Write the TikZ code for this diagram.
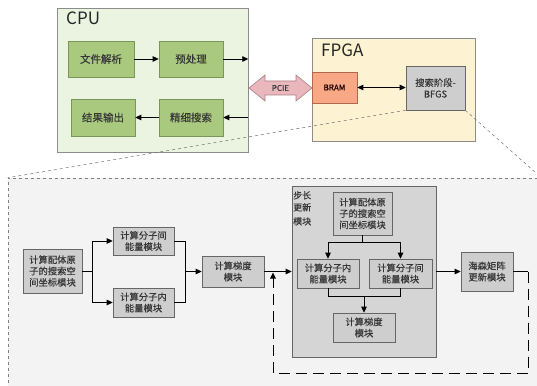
\documentclass[tikz,border=0pt]{standalone}
\usepackage{fontspec}
\setmainfont{Noto Sans CJK SC}[FakeBold=0.35]
\newfontfamily\titlefont{Noto Sans CJK SC}
\usetikzlibrary{arrows.meta, shadows}

\definecolor{cpufill}{RGB}{235,244,225}
\definecolor{fpgafill}{RGB}{253,243,210}
\definecolor{greenfill}{RGB}{169,201,126}
\definecolor{greenline}{RGB}{120,150,90}
\definecolor{bramfill}{RGB}{249,168,134}
\definecolor{bramline}{RGB}{175,105,80}
\definecolor{pciefill}{RGB}{234,184,188}
\definecolor{pcieline}{RGB}{170,125,130}
\definecolor{grayfill}{RGB}{206,206,206}
\definecolor{stepfill}{RGB}{213,213,213}
\definecolor{detailfill}{RGB}{243,243,243}
\definecolor{textgray}{RGB}{55,55,55}

\begin{document}
\begin{tikzpicture}[x=1pt, y=-1pt, >={Triangle[length=6pt,width=5.5pt]},
  container/.style={draw=black!45, line width=0.6pt, inner sep=0pt},
  greenbox/.style={draw=greenline, fill=greenfill, line width=0.6pt, minimum width=64pt,
    minimum height=36pt, inner sep=0pt, text=textgray, font=\fontsize{10.5}{12}\selectfont,
    drop shadow={shadow xshift=1.2pt, shadow yshift=-1.2pt, opacity=0.35}},
  graybox/.style={draw=black!60, fill=grayfill, line width=0.6pt, inner sep=0pt, align=center,
    text=textgray, font=\fontsize{9.3}{11.3}\selectfont,
    drop shadow={shadow xshift=1.2pt, shadow yshift=-1.2pt, opacity=0.35}},
  link/.style={line width=0.8pt},
  zoomline/.style={draw=black!55, dashed, line width=0.5pt},
  feedback/.style={line width=1pt, dash pattern=on 11pt off 6pt}]

  \useasboundingbox (0,0) rectangle (537,385);

  % detail of the BFGS stage
  \node[draw=black!50, dashed, fill=detailfill, line width=0.6pt, minimum width=533pt,
    minimum height=214pt] (detail) at (274.5,285) {};

  % host side
  \node[container, fill=cpufill, minimum width=191pt, minimum height=144pt] (cpu) at (152.5,80) {};
  \node[anchor=base west, inner sep=0pt, text=black!85, font=\titlefont\fontsize{17}{17}\selectfont] (cpulabel) at (66,25) {CPU};
  \node[greenbox, minimum width=66pt] (parse) at (101,59) {文件解析};
  \node[greenbox] (prep) at (191,59) {预处理};
  \node[greenbox, minimum height=37pt] (output) at (103,117.5) {结果输出};
  \node[greenbox, minimum height=37pt] (fine) at (191,117.5) {精细搜索};
  \draw[link,->] (parse) -- (prep);
  \draw[link,->] (prep) -- (prep -| cpu.east);
  \draw[link,->] (fine -| cpu.east) -- (fine);
  \draw[link,->] (fine) -- (output);

  % device side
  \node[container, fill=fpgafill, minimum width=163pt, minimum height=103pt] (fpga) at (393.5,89.5) {};
  \node[anchor=base west, inner sep=0pt, text=black!85, font=\titlefont\fontsize{17}{17}\selectfont] (fpgalabel) at (321,57) {FPGA};
  \node[draw=bramline, fill=bramfill, line width=0.6pt, minimum width=45pt, minimum height=31pt,
    inner sep=0pt, text=black!75!red!40!black, font=\fontsize{8}{9}\selectfont,
    drop shadow={shadow xshift=1.2pt, shadow yshift=-1.2pt, opacity=0.35}] (bram) at (334.5,87.5) {BRAM};
  \node[graybox, minimum width=59pt, minimum height=44pt] (bfgs) at (435.5,88) {搜索阶段-\\BFGS};
  \draw[link,<->] (bram) -- (bram -| bfgs.west);

  % PCIE link
  \draw[draw=pcieline, fill=pciefill, line width=0.6pt]
    (249,88) -- (265,75) -- (265,81) -- (296,81) -- (296,75) -- (312,88)
    -- (296,101) -- (296,95) -- (265,95) -- (265,101) -- cycle;
  \node[inner sep=0pt, text=textgray, font=\fontsize{8}{9}\selectfont] (pcie) at (280.5,88) {PCIE};

  \draw[zoomline] (bfgs.south west) -- (detail.north west);
  \draw[zoomline] (bfgs.south east) -- (detail.north east);

  % one BFGS iteration
  \node[graybox, minimum width=59pt, minimum height=44pt] (ligand) at (52.5,271) {计算配体原\\子的搜索空\\间坐标模块};
  \node[graybox, minimum width=61pt, minimum height=28pt] (inter) at (143.5,241) {计算分子间\\能量模块};
  \node[graybox, minimum width=61pt, minimum height=29pt] (intra) at (143.5,302.5) {计算分子内\\能量模块};
  \node[graybox, minimum width=62pt, minimum height=31pt] (grad) at (233,271.5) {计算梯度\\模块};
  \coordinate (fork) at (92,271);
  \coordinate (join) at (185,271.5);
  \draw[link] (ligand) -- (fork);
  \draw[link,->] (fork) |- (inter);
  \draw[link,->] (fork) |- (intra);
  \draw[link] (inter) -| (join);
  \draw[link] (intra) -| (join);
  \draw[link,->] (join) -- (grad);

  % step length update
  \node[graybox, fill=stepfill, minimum width=144pt, minimum height=171pt] (step) at (364,271.5) {};
  \node[anchor=north west, inner sep=0pt, align=left, text=textgray,
    font=\fontsize{9}{12}\selectfont] (steplabel) at (293,191) {步长\\更新\\[2pt]模块};
  \node[graybox, minimum width=59pt, minimum height=43pt] (sligand) at (362.5,213.5) {计算配体原\\子的搜索空\\间坐标模块};
  \node[graybox, minimum width=62pt, minimum height=29pt] (sintra) at (328,273.5) {计算分子内\\能量模块};
  \node[graybox, minimum width=63pt, minimum height=29pt] (sinter) at (400.5,273.5) {计算分子间\\能量模块};
  \node[graybox, minimum width=62pt, minimum height=29pt] (sgrad) at (364,327.5) {计算梯度\\模块};
  \coordinate (sfork) at (362.5,242);
  \coordinate (sjoin) at (364,296);
  \draw[link] (sligand) -- (sfork);
  \draw[link,->] (sfork) -| (sintra);
  \draw[link,->] (sfork) -| (sinter);
  \draw[link] (sintra) |- (sjoin);
  \draw[link] (sinter) |- (sjoin);
  \draw[link,->] (sjoin) -- (sgrad);
  \draw[link,->] (grad) -- (step);

  \node[graybox, minimum width=52pt, minimum height=39pt] (hess) at (487,271.5) {海森矩阵\\更新模块};
  \draw[link,->] (step) -- (hess);

  % next iteration
  \coordinate (hout) at (528,271.5);
  \coordinate (loopr) at (528,373);
  \coordinate (loopl) at (273,373);
  \coordinate (merge) at (273,272.5);
  \draw[link] (hess) -- (hout);
  \draw[feedback,->] (hout) -- (loopr) -- (loopl) -- (merge);
\end{tikzpicture}
\end{document}
